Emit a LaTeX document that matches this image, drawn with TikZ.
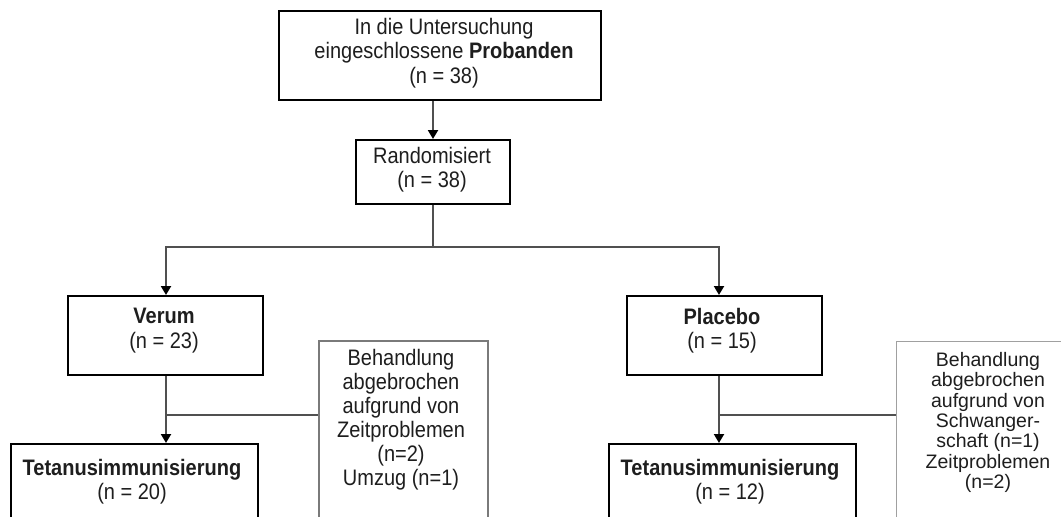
\documentclass[tikz,border=0pt]{standalone}
\usepackage{fontspec}
\setmainfont{Liberation Sans}
\usetikzlibrary{arrows.meta,calc}
\definecolor{txt}{HTML}{1E1E1E}
\definecolor{conncol}{HTML}{505050}
\definecolor{sidecolA}{HTML}{7A7A7A}
\definecolor{sidecolB}{HTML}{A0A0A0}
\newcommand\tallstack[3][1.12]{\scalebox{1}[#1]{\vbox{\hsize=#2\centering\lineskiplimit=-30pt\relax #3\par}}}
\begin{document}
\begin{tikzpicture}[x=1pt,y=-1pt,
  mainbox/.style={draw=black,line width=2pt,fill=white,rectangle,inner sep=0pt,anchor=north west},
  sideboxA/.style={draw=sidecolA,line width=1.8pt,fill=white,rectangle,inner sep=0pt,anchor=north west},
  sideboxB/.style={draw=sidecolB,line width=1pt,fill=white,rectangle,inner sep=0pt,anchor=north west},
  lbl/.style={text=txt,inner sep=0pt,font=\fontsize{20}{21.9}\selectfont},
  sidelbl/.style={text=txt,inner sep=0pt,font=\fontsize{20}{21.4}\selectfont},
  sidelblB/.style={text=txt,inner sep=0pt,font=\fontsize{19.5}{20.3}\selectfont},
  conn/.style={draw=conncol,line width=2pt},
  arr/.style={conn,-{Triangle[width=10pt,length=9pt,color=black]}}
]
\useasboundingbox (0,0) rectangle (1061,517);
\clip (0,0) rectangle (1061,517);
\fill[white] (0,0) rectangle (1061,517);

% boxes
\node[mainbox,minimum width=322pt,minimum height=89pt] (top) at (278,10) {};
\node[mainbox,minimum width=154pt,minimum height=64pt] (rand) at (355,139) {};
\node[mainbox,minimum width=195pt,minimum height=79pt] (verum) at (67,295) {};
\node[mainbox,minimum width=195pt,minimum height=79pt] (placebo) at (626,295) {};
\node[mainbox,minimum width=247pt,minimum height=80pt] (tetL) at (10,443) {};
\node[mainbox,minimum width=247pt,minimum height=80pt] (tetR) at (608,443) {};
\node[sideboxA,minimum width=169pt,minimum height=200pt] (sideL) at (318,340) {};
\node[sideboxB,minimum width=184pt,minimum height=200pt] (sideR) at (896,341) {};

% texts
\node[lbl] (toptxt) at (444,53) {\tallstack{300pt}{In die Untersuchung\\eingeschlossene \textbf{Probanden}\\(n = 38)}};
\node[lbl] (randtxt) at (432,169.5) {\tallstack{150pt}{Randomisiert\\(n = 38)}};
\node[lbl] (verumtxt) at (164,330.5) {\tallstack{190pt}{\textbf{Verum}\\(n = 23)}};
\node[lbl] (placebotxt) at (722,330.5) {\tallstack{190pt}{\textbf{Placebo}\\(n = 15)}};
\node[lbl] (tetLtxt) at (132,481.5) {\tallstack{240pt}{\textbf{Tetanusimmunisierung}\\(n = 20)}};
\node[lbl] (tetRtxt) at (730,481.5) {\tallstack{240pt}{\textbf{Tetanusimmunisierung}\\(n = 12)}};
\node[sidelbl] (sideLtxt) at (401,419.5) {\tallstack{165pt}{Behandlung\\abgebrochen\\aufgrund von\\Zeitproblemen\\(n=2)\\Umzug (n=1)}};
\node[sidelblB] (sideRtxt) at (988,422.5) {\tallstack[1]{165pt}{Behandlung\\abgebrochen\\aufgrund von\\Schwanger-\\schaft (n=1)\\Zeitproblemen\\(n=2)}};

% connector coordinates
\coordinate (j) at ($(rand.south)+(0,42)$);
\coordinate (vc) at ([xshift=0.5pt]verum.north);
\coordinate (pc) at ([xshift=-5.5pt]placebo.north);
\coordinate (vb) at ([xshift=0.5pt]verum.south);
\coordinate (pb) at ([xshift=-5.5pt]placebo.south);
\coordinate (bl) at ($(vb)+(0,39)$);
\coordinate (br) at ($(pb)+(0,39)$);

% connectors
\draw[arr] (top.south -| rand.north) -- (rand.north);
\draw[conn] (rand.south) -- (j);
\draw[arr] (j) -| (vc);
\draw[arr] (j) -| (pc);
\draw[arr] (vb) -- (vb |- tetL.north);
\draw[arr] (pb) -- (pb |- tetR.north);
\draw[conn] (bl) -- (bl -| sideL.west);
\draw[conn] (br) -- (br -| sideR.west);
\end{tikzpicture}
\end{document}
